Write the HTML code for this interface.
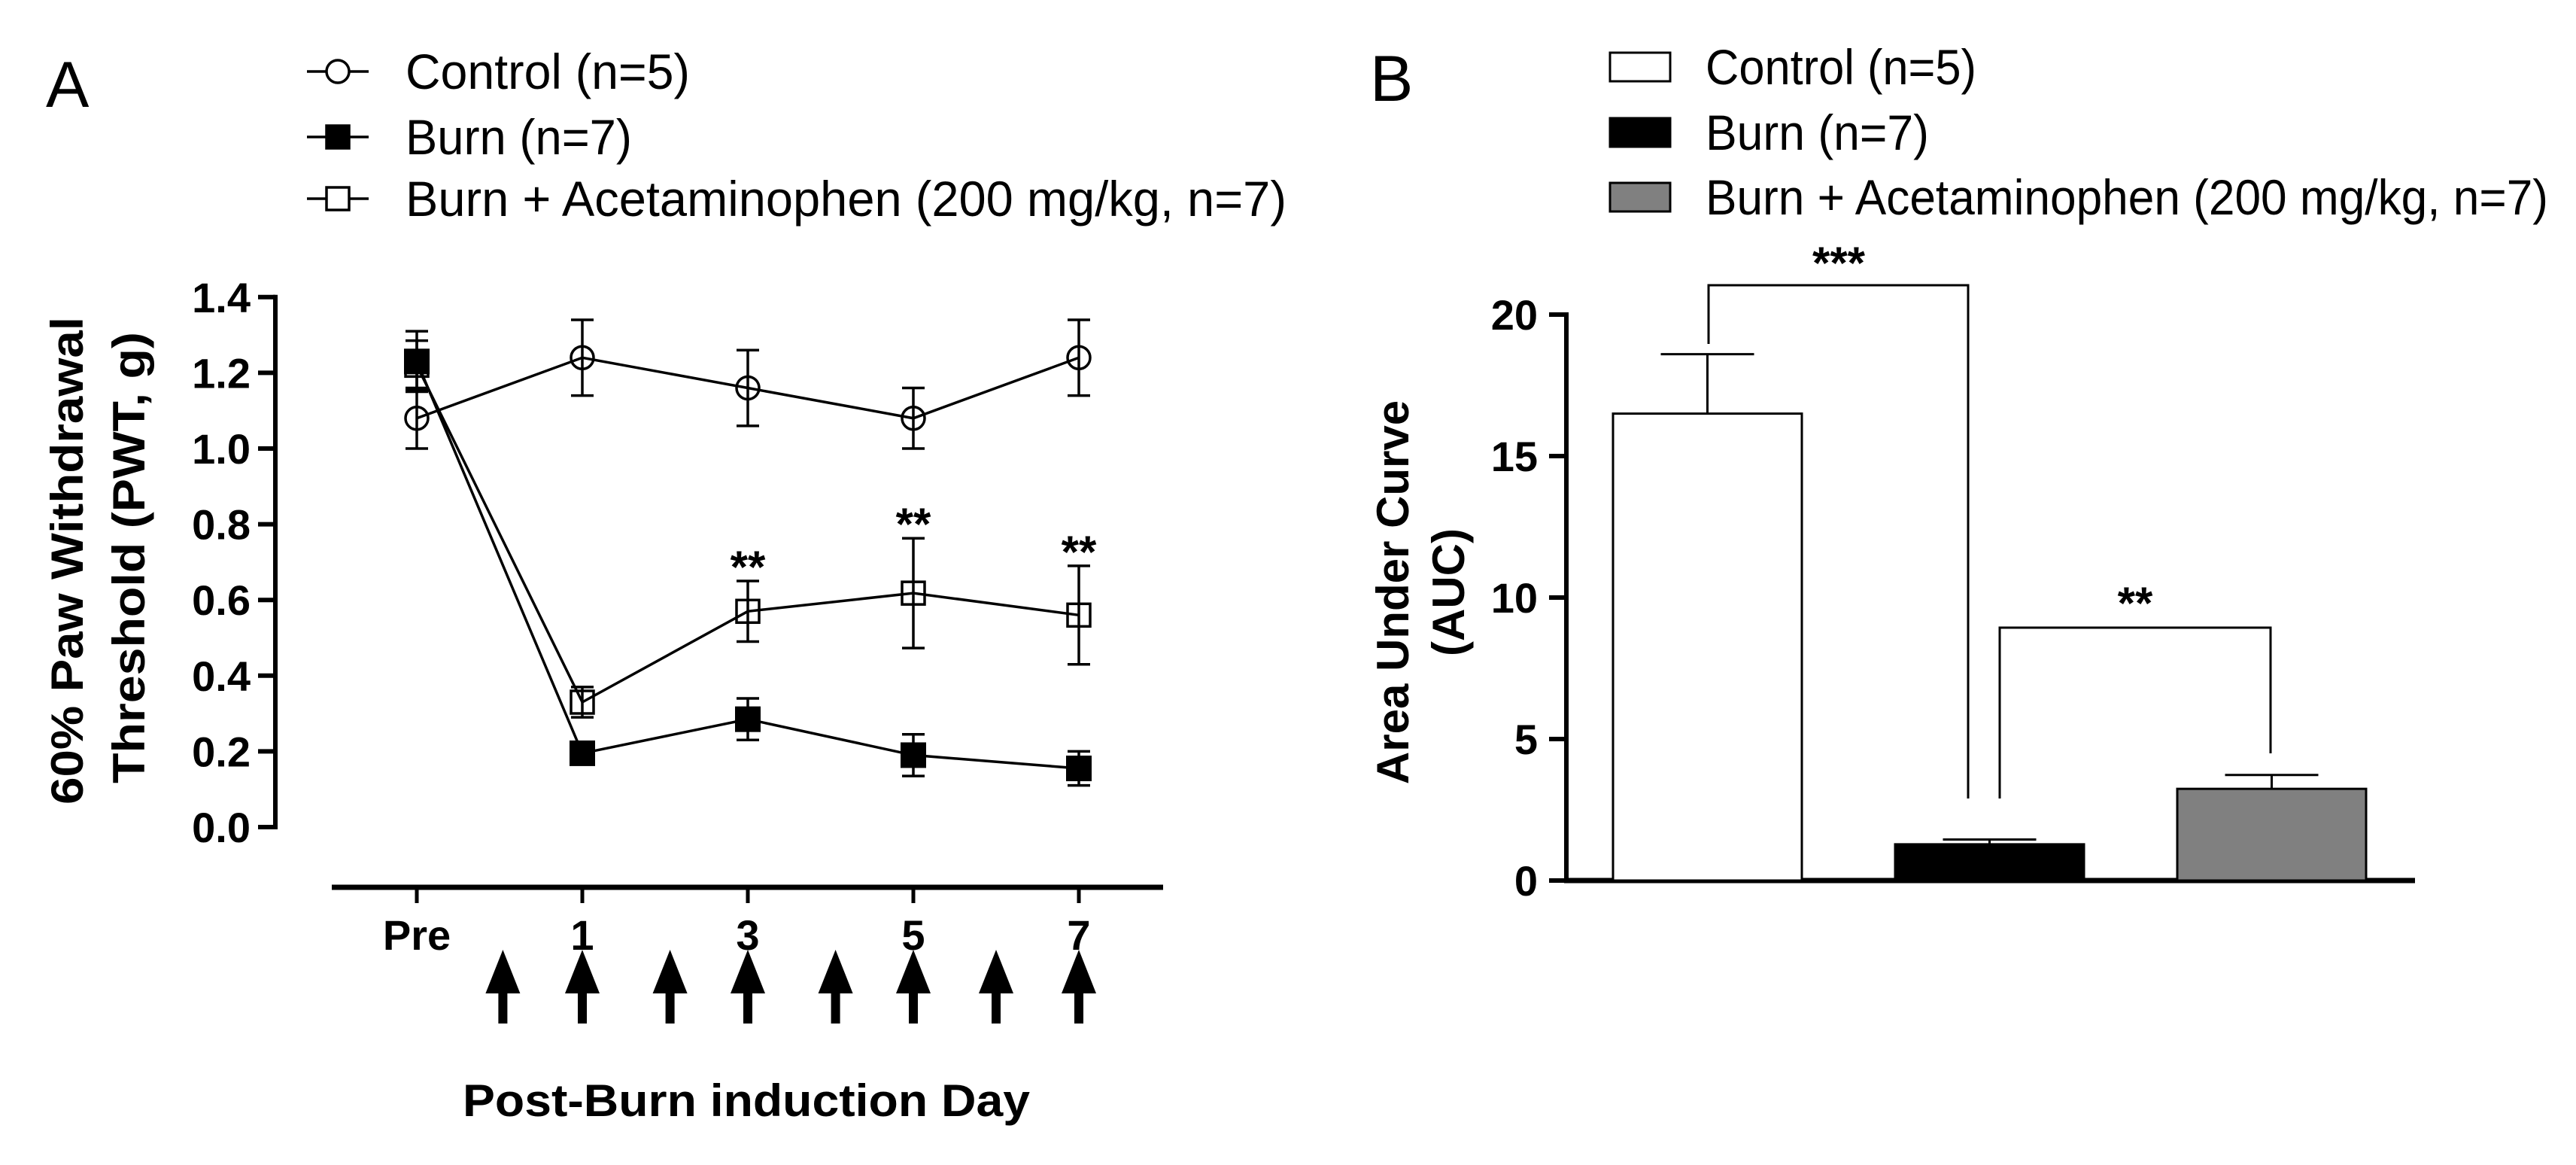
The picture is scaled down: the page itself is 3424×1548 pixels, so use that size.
<!DOCTYPE html>
<html><head><meta charset="utf-8"><style>
html,body{margin:0;padding:0;background:#fff;}
svg{display:block;font-family:"Liberation Sans",Arial,sans-serif;}
</style></head><body>
<svg id="fig" width="3424" height="1548" viewBox="0 0 3424 1548" xmlns="http://www.w3.org/2000/svg">
<rect width="3424" height="1548" fill="#fff"/>
<g id="panelA"></g>
<g id="panelB"></g>
</svg>
<script>
// ---- Panel A data ----
const daysA = ["Pre","1","3","5","7"];
const controlMean = [1.08,1.24,1.16,1.08,1.24];
const controlErr  = [0.08,0.10,0.10,0.08,0.10];
const burnMean = [1.23,0.195,0.285,0.19,0.155];
const burnErr  = [0.08,0.02,0.055,0.055,0.045];
const acetMean = [1.22,0.33,0.57,0.618,0.56];
const acetErr  = [0.065,0.04,0.08,0.145,0.13];
const sigA = ["","","**","**","**"];
const yTicksA = [0,0.2,0.4,0.6,0.8,1.0,1.2,1.4];
const arrowDays = [0.52,1,1.53,2,2.53,3,3.5,4];
// ---- Panel B data ----
const groupsB = ["Control","Burn","Burn + Acetaminophen"];
const aucMean = [16.5,1.28,3.24];
const aucErr  = [2.1,0.17,0.49];
const yTicksB = [0,5,10,15,20];

const NS="http://www.w3.org/2000/svg";
function mk(parent,tag,attrs,text){const e=document.createElementNS(NS,tag);for(const k in attrs)e.setAttribute(k,attrs[k]);if(text!==undefined)e.textContent=text;parent.appendChild(e);return e;}

// ===== Panel A =====
const A=document.getElementById('panelA');
const xA=i=>554+i*220;
const yA=v=>1099-v*503;
let t=mk(A,'text',{x:61,y:142,'font-size':86,fill:'#000'},'A');


// legend
const legA=[["Control (n=5)","circle",378],["Burn (n=7)","filled",301],["Burn + Acetaminophen (200 mg/kg, n=7)","open",1171]];
const legY=[95,182,264];
legA.forEach((L,i)=>{
  const g=mk(A,'g',{});
  
  
  mk(g,'line',{x1:408,x2:490,y1:legY[i],y2:legY[i],stroke:'#000','stroke-width':3.5});
  if(L[1]==='circle') mk(g,'circle',{cx:449,cy:legY[i],r:15,fill:'#fff',stroke:'#000','stroke-width':3.5});
  else mk(g,'rect',{x:434,y:legY[i]-15,width:30,height:30,fill:L[1]==='filled'?'#000':'#fff',stroke:'#000','stroke-width':3.5});
  mk(g,'text',{x:539,y:legY[i]+23,'font-size':66,fill:'#000',textLength:L[2],lengthAdjust:'spacingAndGlyphs'},L[0]);
});
// y axis
const yax=mk(A,'g',{});


mk(yax,'line',{x1:366,x2:366,y1:yA(1.4)-3,y2:yA(0)+3,stroke:'#000','stroke-width':6});
yTicksA.forEach(v=>{
  mk(yax,'line',{x1:343,x2:366,y1:yA(v),y2:yA(v),stroke:'#000','stroke-width':6});
  const tx=mk(yax,'text',{x:333,y:yA(v)+20,'font-size':56,'font-weight':'bold','text-anchor':'end',fill:'#000'},v.toFixed(1));
  
  
});
t=mk(A,'text',{x:0,y:0,'font-size':60,'font-weight':'bold','text-anchor':'middle',fill:'#000',transform:'translate(110,745) rotate(-90)',textLength:648,lengthAdjust:'spacingAndGlyphs'},'60% Paw Withdrawal');


t=mk(A,'text',{x:0,y:0,'font-size':60,'font-weight':'bold','text-anchor':'middle',fill:'#000',transform:'translate(192,741) rotate(-90)',textLength:600,lengthAdjust:'spacingAndGlyphs'},'Threshold (PWT, g)');


// x axis
const xax=mk(A,'g',{});


mk(xax,'line',{x1:441,x2:1546,y1:1179,y2:1179,stroke:'#000','stroke-width':7});
daysA.forEach((d,i)=>{
  mk(xax,'line',{x1:xA(i),x2:xA(i),y1:1179,y2:1200,stroke:'#000','stroke-width':5});
  const tx=mk(xax,'text',{x:xA(i),y:1262,'font-size':56,'font-weight':'bold','text-anchor':'middle',fill:'#000'},d);
  
  
});
arrowDays.forEach(d=>{
  const x=xA(d);
  const g=mk(A,'g',{});
  
  
  mk(g,'polygon',{points:`${x},1262 ${x+23},1320 ${x-23},1320`,fill:'#000'});
  mk(g,'rect',{x:x-6,y:1318,width:12,height:42,fill:'#000'});
});
t=mk(A,'text',{x:992,y:1483,'font-size':60,'font-weight':'bold','text-anchor':'middle',fill:'#000',textLength:754,lengthAdjust:'spacingAndGlyphs'},'Post-Burn induction Day');


// series
function series(mean,err,kind,name){
  const g=mk(A,'g',{});
  
  
  mk(g,'polyline',{points:mean.map((v,i)=>xA(i)+','+yA(v)).join(' '),fill:'none',stroke:'#000','stroke-width':3.5});
  mean.forEach((v,i)=>{
    const x=xA(i);
    mk(g,'line',{x1:x,x2:x,y1:yA(v+err[i]),y2:yA(v-err[i]),stroke:'#000','stroke-width':3.5});
    mk(g,'line',{x1:x-15,x2:x+15,y1:yA(v+err[i]),y2:yA(v+err[i]),stroke:'#000','stroke-width':3.5});
    mk(g,'line',{x1:x-15,x2:x+15,y1:yA(v-err[i]),y2:yA(v-err[i]),stroke:'#000','stroke-width':3.5});
  });
  mean.forEach((v,i)=>{
    const x=xA(i),y=yA(v);
    if(kind==='circle') mk(g,'circle',{cx:x,cy:y,r:15,fill:'none',stroke:'#000','stroke-width':3.5});
    else if(kind==='filled') mk(g,'rect',{x:x-16,y:y-16,width:32,height:32,fill:'#000',stroke:'#000','stroke-width':2});
    else mk(g,'rect',{x:x-15,y:y-15,width:30,height:30,fill:'none',stroke:'#000','stroke-width':3.5});
  });
}
series(acetMean,acetErr,'open','series-acetaminophen');
series(controlMean,controlErr,'circle','series-control');
series(burnMean,burnErr,'filled','series-burn');
sigA.forEach((s,i)=>{
  if(!s)return;
  const tx=mk(A,'text',{x:xA(i),y:yA(acetMean[i]+acetErr[i])+2,'font-size':60,'font-weight':'bold','text-anchor':'middle',fill:'#000'},s);
  
  
});

// ===== Panel B =====
const B=document.getElementById('panelB');
const yB=v=>1170-v*37.6;
const barX=[2144,2519,2894];
const barW=251;
const fills=['#fff','#000','#808080'];
t=mk(B,'text',{x:1821,y:134,'font-size':86,fill:'#000'},'B');


const legBY=[89,176,262];
const legBW=[360,297,1120];
groupsB.forEach((gname,i)=>{
  const g=mk(B,'g',{});
  
  
  mk(g,'rect',{x:2140,y:legBY[i]-19,width:80,height:38,fill:fills[i],stroke:'#000','stroke-width':3});
  const lbl=["Control (n=5)","Burn (n=7)","Burn + Acetaminophen (200 mg/kg, n=7)"][i];
  mk(g,'text',{x:2267,y:legBY[i]+23,'font-size':66,fill:'#000',textLength:legBW[i],lengthAdjust:'spacingAndGlyphs'},lbl);
});
const ybx=mk(B,'g',{});


mk(ybx,'line',{x1:2082,x2:2082,y1:yB(20)-3,y2:yB(0)+3,stroke:'#000','stroke-width':6});
mk(ybx,'line',{x1:2079,x2:3210,y1:1170,y2:1170,stroke:'#000','stroke-width':7});
yTicksB.forEach(v=>{
  mk(ybx,'line',{x1:2059,x2:2082,y1:yB(v),y2:yB(v),stroke:'#000','stroke-width':6});
  const tx=mk(ybx,'text',{x:2044,y:yB(v)+20,'font-size':56,'font-weight':'bold','text-anchor':'end',fill:'#000'},String(v));
  
  
});
t=mk(B,'text',{x:0,y:0,'font-size':60,'font-weight':'bold','text-anchor':'middle',fill:'#000',transform:'translate(1872,787) rotate(-90)'},'Area Under Curve');


t=mk(B,'text',{x:0,y:0,'font-size':60,'font-weight':'bold','text-anchor':'middle',fill:'#000',transform:'translate(1946,787) rotate(-90)'},'(AUC)');


aucMean.forEach((v,i)=>{
  const g=mk(B,'g',{});
  
  
  const cx=barX[i]+barW/2;
  mk(g,'line',{x1:cx,x2:cx,y1:yB(v),y2:yB(v+aucErr[i]),stroke:'#000','stroke-width':3});
  mk(g,'line',{x1:cx-62,x2:cx+62,y1:yB(v+aucErr[i]),y2:yB(v+aucErr[i]),stroke:'#000','stroke-width':3});
  mk(g,'rect',{x:barX[i],y:yB(v),width:barW,height:1170-yB(v),fill:fills[i],stroke:'#000','stroke-width':3});
});
// brackets
const br1=mk(B,'g',{});


mk(br1,'polyline',{points:'2271,457 2271,379 2616,379 2616,1061',fill:'none',stroke:'#000','stroke-width':3});
mk(br1,'text',{x:2444,y:370,'font-size':60,'font-weight':'bold','text-anchor':'middle',fill:'#000'},'***');
const br2=mk(B,'g',{});


mk(br2,'polyline',{points:'2658,1061 2658,834 3018,834 3018,1001',fill:'none',stroke:'#000','stroke-width':3});
mk(br2,'text',{x:2838,y:822,'font-size':60,'font-weight':'bold','text-anchor':'middle',fill:'#000'},'**');
</script>
</body></html>
